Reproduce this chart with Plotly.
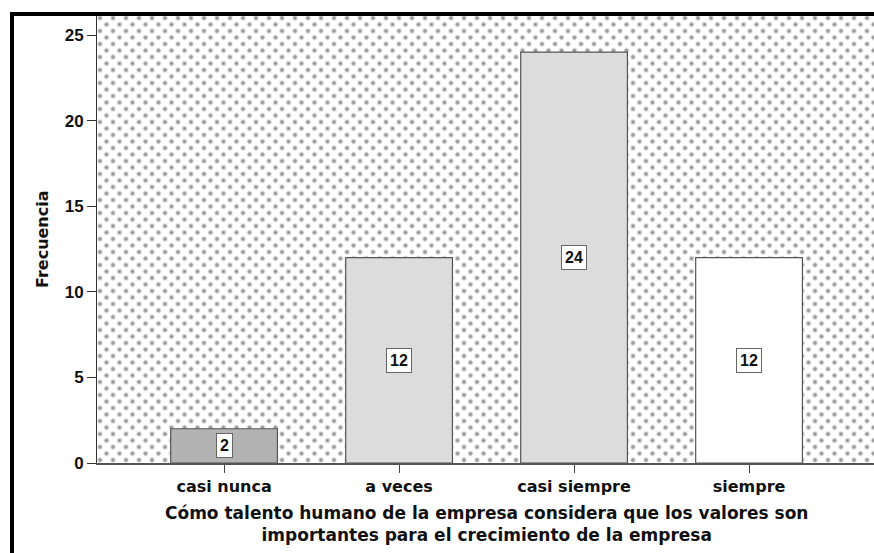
import base64
import plotly.graph_objects as go

# ---- data ----
categories = ["casi nunca", "a veces", "casi siempre", "siempre"]
frecuencia = [2, 12, 24, 12]
bar_colors = ["#b3b3b3", "#dcdcdc", "#dcdcdc", "#ffffff"]
y_ticks = [0, 5, 10, 15, 20, 25]
x_title = ("Cómo talento humano de la empresa considera que los valores son<br>"
           "importantes para el crecimiento de la empresa")
y_title = "Frecuencia"

# page body margin is removed in post_script, so figure pixels == page pixels
W, H = 874, 553
ML, MT = 97, 16
PLOT_BOTTOM = 463
MR = 0
MB = H - PLOT_BOTTOM
PW, PH = W - ML - MR, H - MT - MB

def px_x(p):  # page pixel -> paper
    return (p - ML) / PW

def px_y(p):
    return (PLOT_BOTTOM - p) / PH

# background dot pattern (style only)
svg = f"""<svg xmlns='http://www.w3.org/2000/svg' width='{PW}' height='{PH}' viewBox='0 0 {PW} {PH}' preserveAspectRatio='none'>
<defs>
<radialGradient id='g'>
<stop offset='0' stop-color='#8a8a8a'/>
<stop offset='0.4' stop-color='#b0b0b0'/>
<stop offset='1' stop-color='#ffffff' stop-opacity='0'/>
</radialGradient>
<pattern id='p' x='3' y='2' width='13' height='13' patternUnits='userSpaceOnUse'>
<rect width='13' height='13' fill='#ffffff'/>
<circle cx='0' cy='0' r='3.8' fill='url(#g)'/>
<circle cx='13' cy='0' r='3.8' fill='url(#g)'/>
<circle cx='0' cy='13' r='3.8' fill='url(#g)'/>
<circle cx='13' cy='13' r='3.8' fill='url(#g)'/>
<circle cx='6.5' cy='6.5' r='3.8' fill='url(#g)'/>
</pattern>
</defs>
<rect width='{PW}' height='{PH}' fill='url(#p)'/>
</svg>"""
src = "data:image/svg+xml;base64," + base64.b64encode(svg.encode()).decode()

fig = go.Figure()
fig.add_trace(go.Bar(
    x=categories, y=frecuencia, width=0.61,
    marker=dict(color=bar_colors, line=dict(color="#555555", width=1.2)),
    hoverinfo="x+y", showlegend=False,
))

annotations = []
for c, v in zip(categories, frecuencia):
    annotations.append(dict(
        x=c, y=v / 2, xref="x", yref="y", text=str(v), showarrow=False,
        font=dict(family="Liberation Sans", size=16, color="#111111", weight="bold"),
        bgcolor="#ffffff", bordercolor="#666666", borderwidth=1, borderpad=3,
        xanchor="center", yanchor="middle",
    ))

annotations.append(dict(
    x=px_x(42), y=px_y(239), xref="paper", yref="paper", text=y_title,
    textangle=-90, showarrow=False, xanchor="center", yanchor="middle",
    font=dict(family="DejaVu Sans", size=16, color="#111111", weight="bold"),
))
annotations.append(dict(
    x=px_x(486.5), y=px_y(524), xref="paper", yref="paper", text=x_title,
    showarrow=False, xanchor="center", yanchor="middle", align="center",
    font=dict(family="DejaVu Sans", size=17, color="#111111", weight="bold"),
))

shapes = [
    dict(type="line", xref="paper", yref="paper", x0=px_x(10), x1=px_x(890),
         y0=px_y(14), y1=px_y(14), line=dict(color="#000000", width=4)),
    dict(type="line", xref="paper", yref="paper", x0=px_x(12), x1=px_x(12),
         y0=px_y(12), y1=px_y(570), line=dict(color="#000000", width=4)),
]

fig.update_layout(
    width=W, height=H,
    margin=dict(l=ML, r=MR, t=MT, b=MB, autoexpand=False),
    paper_bgcolor="#ffffff",
    plot_bgcolor="rgba(0,0,0,0)",
    images=[dict(source=src, xref="paper", yref="paper", x=0, y=1, sizex=1, sizey=1,
                 xanchor="left", yanchor="top", sizing="stretch", layer="below")],
    annotations=annotations,
    shapes=shapes,
    xaxis=dict(
        range=[-0.726, 3.714], showgrid=False, zeroline=False,
        showline=True, linecolor="#555555", linewidth=2,
        ticks="outside", ticklen=8, tickcolor="#444444", tickwidth=1,
        tickfont=dict(family="DejaVu Sans", size=16, color="#111111", weight="bold"),
        automargin=False,
    ),
    yaxis=dict(
        range=[0, 26.11], showgrid=False, zeroline=False,
        tickvals=y_ticks, ticktext=[str(t) for t in y_ticks],
        showline=True, linecolor="#333333", linewidth=1,
        ticks="outside", ticklen=9, tickcolor="#333333", tickwidth=1,
        tickfont=dict(family="Liberation Sans", size=17, color="#111111", weight="bold"),
        automargin=False,
    ),
)

fig.write_html(
    "out.html",
    config={"displayModeBar": False},
    post_script="document.body.style.margin='0';document.documentElement.style.overflow='hidden';",
)
